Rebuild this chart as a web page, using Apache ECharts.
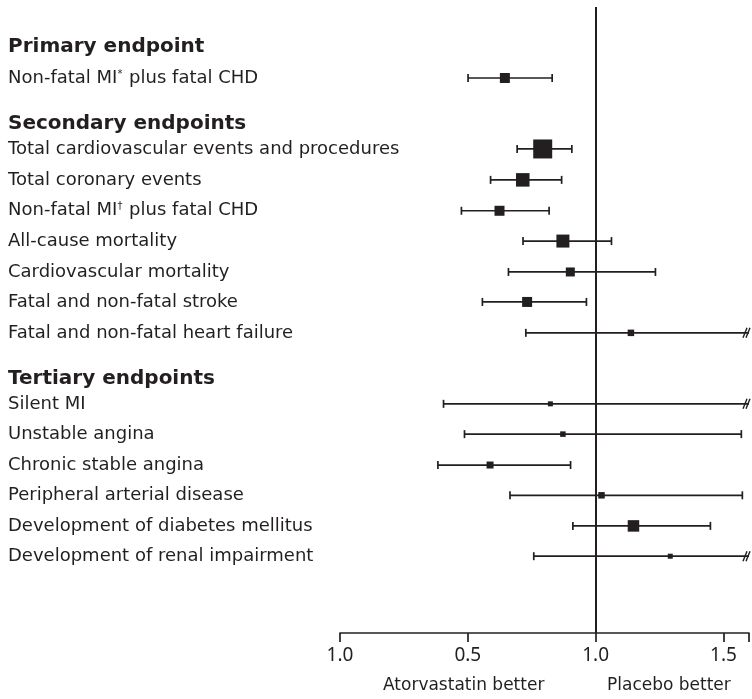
<!DOCTYPE html>
<html lang="en">
<head>
    <meta charset="UTF-8">
    <title>Forest plot - endpoints</title>
    <script src="https://cdn.jsdelivr.net/npm/echarts@6/dist/echarts.min.js"></script>
    <style>
        body { margin: 0; padding: 0; background: #fff; }
        #chart { width: 752px; height: 699px; }
    </style>
</head>
<body>
    <div id="chart"></div>
    <script>
        // endpoints (rows), estimates and 95% CI
        // {s|...} marks a superscript footnote sign
        const endpoints = [
            'Non-fatal MI{s|*} plus fatal CHD',
            'Total cardiovascular events and procedures',
            'Total coronary events',
            'Non-fatal MI{s|\u2020} plus fatal CHD',
            'All-cause mortality',
            'Cardiovascular mortality',
            'Fatal and non-fatal stroke',
            'Fatal and non-fatal heart failure',
            'Silent MI',
            'Unstable angina',
            'Chronic stable angina',
            'Peripheral arterial disease',
            'Development of diabetes mellitus',
            'Development of renal impairment'
        ];
        const estimate = [0.645, 0.793, 0.715, 0.624, 0.872, 0.901, 0.732, 1.138, 0.823, 0.872, 0.587, 1.023, 1.148, 1.292];
        const lowerCI  = [0.501, 0.693, 0.589, 0.475, 0.716, 0.659, 0.557, 0.727, 0.405, 0.487, 0.383, 0.665, 0.911, 0.758];
        // null = upper limit runs off the scale
        const upperCI  = [0.830, 0.907, 0.867, 0.818, 1.062, 1.234, 0.964, null, null, 1.570, 0.902, 1.574, 1.449, null];
        // relative weight of each estimate (drives the box size)
        const weight   = [10, 19, 13.5, 10, 13, 9, 10, 6.5, 5, 5.5, 7, 6.5, 11.5, 5];

        const groups = ['Primary endpoint', 'Secondary endpoints', 'Tertiary endpoints'];

        const tickValues = [0, 0.5, 1.0, 1.5];
        const tickLabels = ['1.0', '0.5', '1.0', '1.5'];

        // layout: vertical slot of each row / group heading
        const rowPos   = [0, 2.32, 3.33, 4.34, 5.33, 6.34, 7.32, 8.33, 10.65, 11.64, 12.65, 13.64, 14.64, 15.63];
        const groupPos = [-1.02, 1.5, 9.84];

        const ink = '#231f20';
        const xMax = 1.6;

        const chart = echarts.init(document.getElementById('chart'));

        function renderCI(params, api) {
            const i = params.dataIndex;
            const y = rowPos[i];
            const pLo = api.coord([lowerCI[i], y]);
            const cut = upperCI[i] === null;
            const pHi = api.coord([cut ? xMax : upperCI[i], y]);
            const pEst = api.coord([estimate[i], y]);
            const s = weight[i];
            const lineStyle = { stroke: ink, lineWidth: 1.7 };
            const children = [
                { type: 'line', shape: { x1: pLo[0], y1: pLo[1], x2: pHi[0], y2: pHi[1] }, style: lineStyle },
                { type: 'line', shape: { x1: pLo[0], y1: pLo[1] - 4, x2: pLo[0], y2: pLo[1] + 4 }, style: lineStyle }
            ];
            if (cut) {
                children.push(
                    { type: 'line', shape: { x1: pHi[0] - 6, y1: pHi[1] + 5, x2: pHi[0] - 2, y2: pHi[1] - 5 }, style: { stroke: ink, lineWidth: 1.4 } },
                    { type: 'line', shape: { x1: pHi[0] - 3, y1: pHi[1] + 5, x2: pHi[0] + 1, y2: pHi[1] - 5 }, style: { stroke: ink, lineWidth: 1.4 } }
                );
            } else {
                children.push({ type: 'line', shape: { x1: pHi[0], y1: pHi[1] - 4, x2: pHi[0], y2: pHi[1] + 4 }, style: lineStyle });
            }
            children.push({ type: 'rect', shape: { x: pEst[0] - s / 2, y: pEst[1] - s / 2, width: s, height: s }, style: { fill: ink } });
            return { type: 'group', children: children };
        }

        function renderLabel(params, api) {
            const y = api.coord([0, api.value(1)])[1];
            const bold = api.value(2) === 1;
            return {
                type: 'text',
                x: 8,
                y: y,
                style: {
                    text: api.value(0),
                    fill: ink,
                    font: bold ? 'bold 20px "DejaVu Sans", sans-serif' : '18px "DejaVu Sans", sans-serif',
                    rich: {
                        s: { fontSize: 10, fontFamily: 'DejaVu Sans', fill: ink, verticalAlign: 'top', padding: [0, 1, 8, 0] }
                    },
                    textVerticalAlign: 'middle',
                    textAlign: 'left'
                }
            };
        }

        const labelData = endpoints.map((t, i) => [t, rowPos[i], 0])
            .concat(groups.map((t, i) => [t, groupPos[i], 1]));

        const option = {
            animation: false,
            grid: { left: 340, right: 2, top: 7, bottom: 66 },
            xAxis: {
                type: 'value',
                min: 0,
                max: xMax,
                interval: 0.5,
                splitLine: { show: false },
                axisLine: { onZero: false, lineStyle: { color: ink, width: 1.7 } },
                axisTick: { length: 9, lineStyle: { color: ink, width: 1.7 } },
                axisLabel: {
                    color: ink,
                    fontSize: 19,
                    fontFamily: 'Noto Sans',
                    margin: 13,
                    formatter: v => {
                        const k = tickValues.findIndex(t => Math.abs(t - v) < 1e-6);
                        return k >= 0 ? tickLabels[k] : '';
                    }
                }
            },
            yAxis: {
                type: 'value',
                inverse: true,
                min: -2.32,
                max: 18.14,
                show: false
            },
            series: [
                {
                    type: 'custom',
                    renderItem: renderCI,
                    data: endpoints.map((_, i) => [estimate[i], rowPos[i]]),
                    markLine: {
                        silent: true,
                        symbol: 'none',
                        label: { show: false },
                        lineStyle: { color: ink, width: 2, type: 'solid' },
                        data: [{ xAxis: 1 }]
                    }
                },
                {
                    type: 'custom',
                    renderItem: renderLabel,
                    encode: { x: -1, y: 1 },
                    clip: false,
                    data: labelData
                }
            ],
            graphic: [
                { type: 'text', left: 383, top: 677, style: { text: 'Atorvastatin better', fill: ink, font: '17px "DejaVu Sans", sans-serif' } },
                { type: 'text', left: 607, top: 677, style: { text: 'Placebo better', fill: ink, font: '17px "DejaVu Sans", sans-serif' } }
            ]
        };

        chart.setOption(option);
    </script>
</body>
</html>
